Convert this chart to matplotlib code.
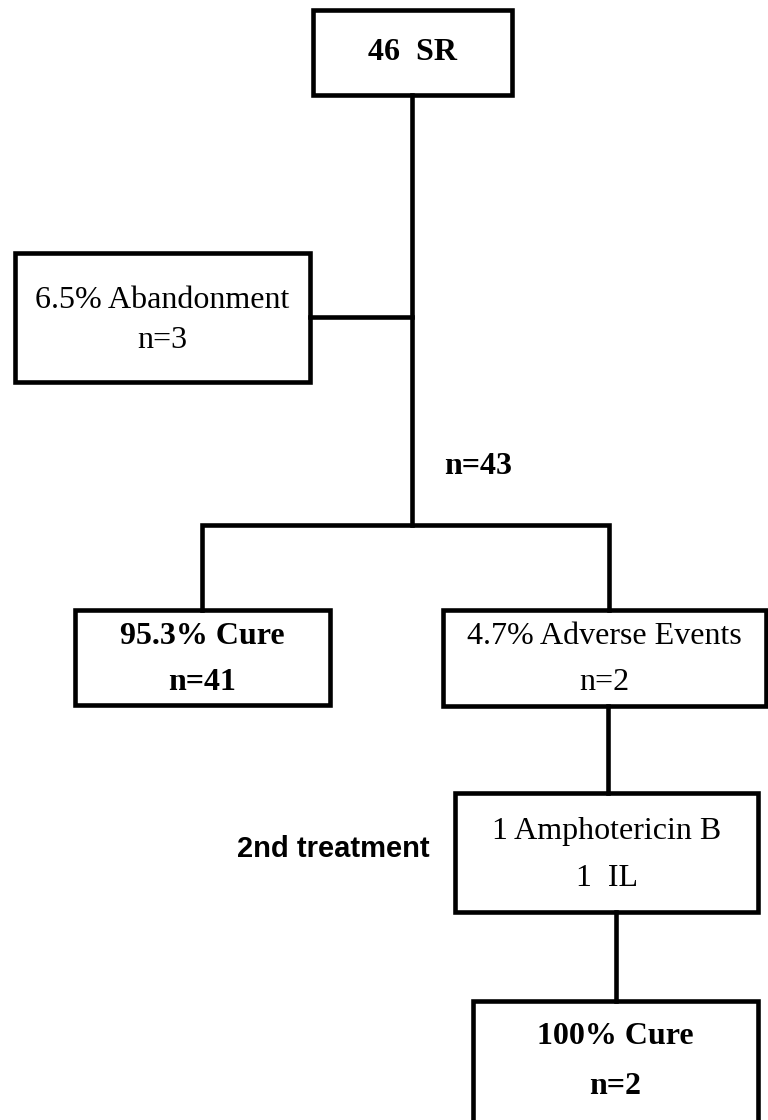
import matplotlib
matplotlib.use("Agg")
import matplotlib.pyplot as plt
from matplotlib.patches import Rectangle

# flow chart content
box_names = ["start", "abandon", "cure", "adverse", "second", "final"]
box_lines = [
    ["46  SR"],
    ["6.5% Abandonment", "n=3"],
    ["95.3% Cure", "n=41"],
    ["4.7% Adverse Events", "n=2"],
    ["1 Amphotericin B", "1  IL"],
    ["100% Cure", "n=2"],
]
box_bold = [True, False, True, False, False, True]
remaining_label = "n=43"
side_label = "2nd treatment"

# layout in pixels (x0, y0, x1, y1), y grows downwards
layout = {
    "start": (313, 10, 512, 95),
    "abandon": (15, 253, 310, 382),
    "cure": (75, 610, 330, 705),
    "adverse": (443, 610, 766, 706),
    "second": (455, 793, 758, 912),
    "final": (473, 1001, 758, 1126),
}
text_rows = {
    "start": [53],
    "abandon": [301, 340],
    "cure": [636, 683],
    "adverse": [636, 683],
    "second": [831, 879],
    "final": [1036, 1086],
}
connectors = [
    [(412, 95), (412, 525)],
    [(310, 317), (412, 317)],
    [(202, 610), (202, 525), (609, 525), (609, 610)],
    [(608, 706), (608, 793)],
    [(616, 912), (616, 1001)],
]

LW = 3.3
W, H = 768, 1120

fig = plt.figure(figsize=(7.68, 11.2), dpi=100)
ax = fig.add_axes([0, 0, 1, 1])
ax.set_xlim(0, W)
ax.set_ylim(H, 0)
ax.axis("off")

for seg in connectors:
    xs = [p[0] for p in seg]
    ys = [p[1] for p in seg]
    ax.plot(xs, ys, color="black", linewidth=LW, solid_joinstyle="miter",
            solid_capstyle="projecting")

for name, lines, bold in zip(box_names, box_lines, box_bold):
    x0, y0, x1, y1 = layout[name]
    ax.add_patch(Rectangle((x0, y0), x1 - x0, y1 - y0, facecolor="white",
                           edgecolor="black", linewidth=LW, joinstyle="miter"))
    cx = (x0 + x1) / 2
    for txt, ty in zip(lines, text_rows[name]):
        ax.text(cx, ty, txt, ha="center", va="center", fontsize=23,
                family="Liberation Serif",
                fontweight="bold" if bold else "normal")

ax.text(478, 467, remaining_label, ha="center", va="center", fontsize=23,
        family="Liberation Serif", fontweight="bold")
ax.text(333, 849, side_label, ha="center", va="center", fontsize=21,
        family="Liberation Sans", fontweight="bold")

fig.savefig("out.png", dpi=100, facecolor="white")
